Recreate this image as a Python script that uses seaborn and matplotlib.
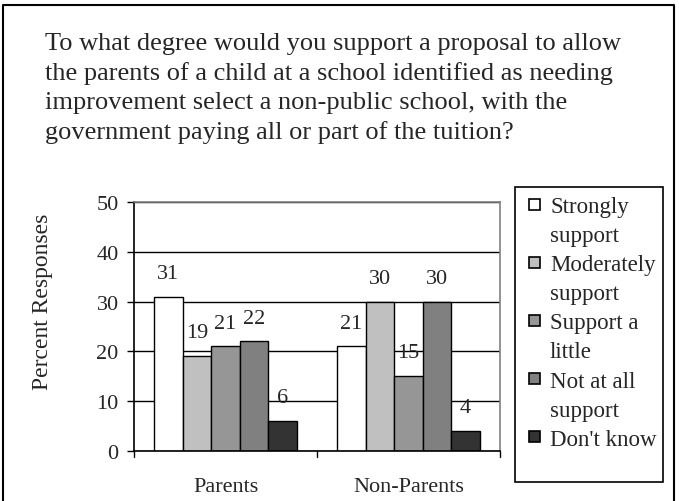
import pandas as pd
import matplotlib.pyplot as plt
import seaborn as sns
from matplotlib.patches import Rectangle

groups = ['Parents', 'Non-Parents']
responses = ['Strongly\nsupport', 'Moderately\nsupport', 'Support a\nlittle',
             'Not at all\nsupport', "Don't know"]
parents = [31, 19, 21, 22, 6]
non_parents = [21, 30, 15, 30, 4]
colors = ['#ffffff', '#c0c0c0', '#969696', '#808080', '#333333']
title = ('To what degree would you support a proposal to allow\n'
         'the parents of a child at a school identified as needing\n'
         'improvement select a non-public school, with the\n'
         'government paying all or part of the tuition?')

rows = []
for g, vals in zip(groups, [parents, non_parents]):
    for r, v in zip(responses, vals):
        rows.append({'group': g, 'response': r, 'value': v})
df = pd.DataFrame(rows)

sns.set_style('white')
plt.rcParams['font.family'] = ['Liberation Serif', 'DejaVu Serif']

W, H = 679, 502
fig = plt.figure(figsize=(W / 100, H / 100), dpi=100)
ax = fig.add_axes([134 / W, 1 - 452 / H, 366 / W, 249 / H])

sns.barplot(data=df, x='group', y='value', hue='response', palette=colors,
            edgecolor='black', linewidth=1, width=0.78, ax=ax, legend=False)

for cont in ax.containers:
    ax.bar_label(cont, fmt='%d', padding=10, fontsize=16)

ax.set_ylim(0, 50)
ax.set_yticks([0, 10, 20, 30, 40, 50])
ax.set_xlim(-0.5, 1.5)
ax.yaxis.grid(True, color='black', linewidth=1)
ax.set_axisbelow(True)
ax.set_xlabel('')
ax.set_ylabel('Percent Responses', fontsize=17)
ax.yaxis.set_label_coords((42 - 134) / 366, (452 - 302) / 249)
ax.yaxis.label.set_va('center')
ax.tick_params(axis='y', labelsize=16, length=5, left=True, direction='out',
               width=1, color='black', pad=6)
ax.tick_params(axis='x', labelsize=16, length=0, pad=19)
for x in [-0.5, 0.5, 1.5]:
    ax.plot([x, x], [0, -1.3], color='black', lw=1, clip_on=False)
ax.spines['left'].set_color('black')
ax.spines['bottom'].set_color('black')
ax.spines['top'].set_color('#808080')
ax.spines['right'].set_color('#808080')
for s in ax.spines.values():
    s.set_linewidth(1.2)

# legend drawn by hand, Excel style: marker on the first line of each entry
fig.patches.append(Rectangle((515 / W, 1 - 483 / H), 148 / W, 295 / H,
                             transform=fig.transFigure, fill=False,
                             edgecolor='black', linewidth=1.2))
line = 0
for lab, col in zip(responses, colors):
    yc = 205 + 29.1 * line
    fig.patches.append(Rectangle((529 / W, 1 - (yc + 5.5) / H), 11 / W, 11 / H,
                                 transform=fig.transFigure, facecolor=col,
                                 edgecolor='black', linewidth=1.2))
    for k, part in enumerate(lab.split('\n')):
        fig.text(550 / W, 1 - (yc + 29.1 * k) / H, part, fontsize=16.5,
                 va='center_baseline', ha='left')
    line += len(lab.split('\n'))

fig.text(45 / W, 1 - 33 / H, title, fontsize=19, va='top', ha='left', linespacing=1.4)

# outer frame (open at the bottom)
fig.add_artist(plt.Line2D([3 / W, 3 / W, 674 / W, 674 / W],
                          [0, 1 - 6 / H, 1 - 6 / H, 0],
                          transform=fig.transFigure, color='black', lw=1.5))

fig.savefig('out.png', dpi=100)
